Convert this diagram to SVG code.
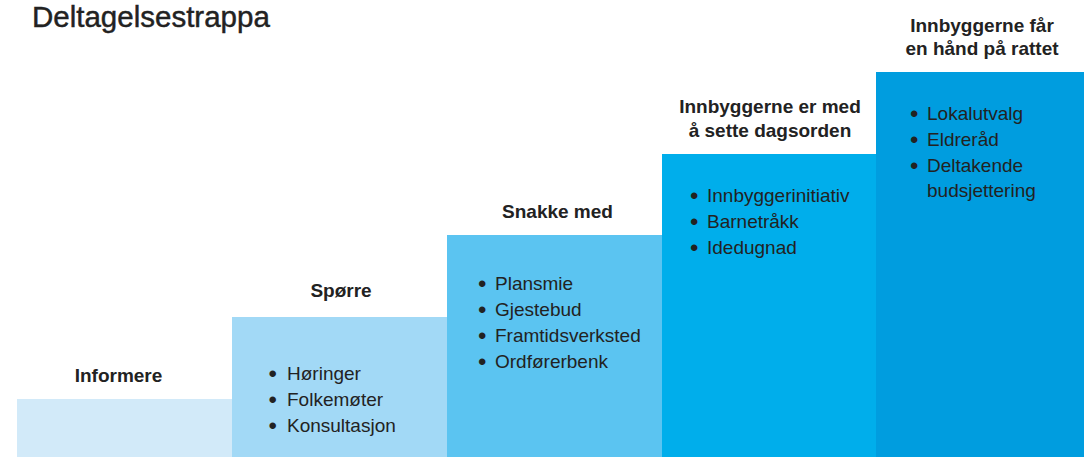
<svg xmlns="http://www.w3.org/2000/svg" width="1084" height="457" viewBox="0 0 1084 457">
<style>
text{font-family:"Liberation Sans",Arial,sans-serif;fill:#222}
.title{font-size:29.5px;stroke:#222;stroke-width:0.45px}
.h{font-size:19px;font-weight:bold;text-anchor:middle}
.b{font-size:19px}
.d{font-size:24px}
</style>
<rect width="1084" height="457" fill="#fff"/>
<text class="title" x="32" y="27">Deltagelsestrappa</text>
<g id="step1">
<rect x="17" y="399" width="215" height="58" fill="#d2eaf9"/>
<text class="h" x="118.5" y="382">Informere</text>
</g>
<g id="step2">
<rect x="232" y="317" width="215" height="140" fill="#a2d9f6"/>
<text class="h" x="341" y="297">Spørre</text>
<text class="d" x="268.5" y="382">•</text><text class="b" x="287" y="380">Høringer</text>
<text class="d" x="268.5" y="408">•</text><text class="b" x="287" y="406">Folkemøter</text>
<text class="d" x="268.5" y="434">•</text><text class="b" x="287" y="432">Konsultasjon</text>
</g>
<g id="step3">
<rect x="447" y="235" width="215" height="222" fill="#5bc4f1"/>
<text class="h" x="557.5" y="218">Snakke med</text>
<text class="d" x="478" y="292">•</text><text class="b" x="495" y="290">Plansmie</text>
<text class="d" x="478" y="318">•</text><text class="b" x="495" y="316">Gjestebud</text>
<text class="d" x="478" y="344">•</text><text class="b" x="495" y="342">Framtidsverksted</text>
<text class="d" x="478" y="370">•</text><text class="b" x="495" y="368">Ordførerbenk</text>
</g>
<g id="step4">
<rect x="662" y="154" width="214" height="303" fill="#00aeeb"/>
<text class="h" x="770" y="113">Innbyggerne er med</text>
<text class="h" x="770" y="137">å sette dagsorden</text>
<text class="d" x="690" y="204">•</text><text class="b" x="707" y="202">Innbyggerinitiativ</text>
<text class="d" x="690" y="230">•</text><text class="b" x="707" y="228">Barnetråkk</text>
<text class="d" x="690" y="256">•</text><text class="b" x="707" y="254">Idedugnad</text>
</g>
<g id="step5">
<rect x="876" y="72" width="208" height="385" fill="#009ddf"/>
<text class="h" x="982" y="32">Innbyggerne får</text>
<text class="h" x="982" y="55">en hånd på rattet</text>
<text class="d" x="910" y="122">•</text><text class="b" x="927" y="120">Lokalutvalg</text>
<text class="d" x="910" y="148">•</text><text class="b" x="927" y="146">Eldreråd</text>
<text class="d" x="910" y="174">•</text><text class="b" x="927" y="172">Deltakende</text>
<text class="b" x="927" y="197">budsjettering</text>
</g>
<g id="connectors"/>
</svg>
